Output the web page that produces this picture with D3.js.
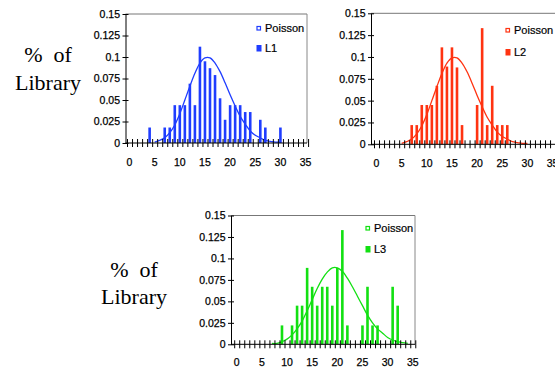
<!DOCTYPE html>
<html>
<head>
<meta charset="utf-8">
<script src="https://cdn.jsdelivr.net/npm/d3@7"></script>
<style>
  body { margin: 0; background: #fff; }
  svg { display: block; }
  .tick text { font-family: Arial, "Liberation Sans", sans-serif; font-size: 10.5px; fill: #000; stroke: #000; stroke-width: 0.25px; }
  .lib { font-family: "Liberation Serif", "Times New Roman", serif; font-size: 22px; white-space: pre; }
  .leg { font-family: Arial, "Liberation Sans", sans-serif; font-size: 11px; stroke: #000; stroke-width: 0.2px; }
</style>
</head>
<body>
<svg id="chart" width="555" height="372"></svg>
<script>
// axis labels
var xLabels = [0, 5, 10, 15, 20, 25, 30, 35];
var yTicks = [0, 0.025, 0.05, 0.075, 0.1, 0.125, 0.15];
var yLabels = ["0", "0.025", "0.05", "0.075", "0.1", "0.125", "0.15"];

// library L1 (bars)
var l1X = [4, 7, 8, 9, 10, 11, 12, 13, 14, 15, 16, 17, 18, 19, 20, 21, 22, 23, 24, 26, 27, 30];
var l1Y = [0.018, 0.018, 0.018, 0.044, 0.044, 0.044, 0.069, 0.044, 0.112, 0.095, 0.087, 0.079,
           0.052, 0.027, 0.044, 0.044, 0.044, 0.036, 0.036, 0.027, 0.018, 0.018];

// library L2
var l2X = [7, 8, 9, 10, 11, 12, 13, 14, 15, 16, 17, 20, 21, 22, 23, 24, 25, 26];
var l2Y = [0.022, 0.022, 0.045, 0.045, 0.045, 0.067, 0.111, 0.089, 0.111, 0.088, 0.022,
           0.045, 0.133, 0.022, 0.067, 0.022, 0.022, 0.022];

// library L3
var l3X = [9, 11, 12, 13, 14, 15, 16, 17, 18, 19, 20, 21, 22, 25, 26, 27, 28, 31, 32];
var l3Y = [0.022, 0.022, 0.045, 0.045, 0.089, 0.067, 0.045, 0.067, 0.067, 0.045, 0.089,
           0.133, 0.022, 0.022, 0.067, 0.022, 0.022, 0.067, 0.045];

// poisson curves (top panels share the same one)
var poisAX = [5, 6, 7, 8, 9, 10, 11, 12, 13, 14, 15, 16, 17, 18, 19, 20, 21, 22, 23, 24, 25, 26, 27, 28, 29, 30];
var poisAY = [0.001, 0.003, 0.006, 0.012, 0.021, 0.034, 0.050, 0.066, 0.081, 0.093, 0.099, 0.099, 0.093,
              0.083, 0.070, 0.056, 0.043, 0.031, 0.022, 0.014, 0.009, 0.006, 0.003, 0.002, 0.001, 0.001];
var poisBX = [7, 8, 9, 10, 11, 12, 13, 14, 15, 16, 17, 18, 19, 20, 21, 22, 23, 24, 25, 26, 27, 28, 29, 30, 31, 32, 33, 34];
var poisBY = [0.001, 0.001, 0.003, 0.006, 0.011, 0.018, 0.027, 0.039, 0.052, 0.065, 0.076, 0.084, 0.089,
              0.089, 0.085, 0.077, 0.067, 0.056, 0.045, 0.034, 0.025, 0.018, 0.013, 0.008, 0.005, 0.003, 0.002, 0.001];

var svg = d3.select('#chart');

function panel(cfg) {
    var g = svg.append('g');
    var bw = 5.03;
    var x = d3.scaleBand()
        .domain(d3.range(36))
        .range([cfg.bandStart, cfg.bandStart + 36 * bw]);
    var edge = d3.scaleLinear().domain([-0.5, 35.5]).range(x.range());
    var y = d3.scaleLinear().domain([0, 0.15]).range([cfg.y0, cfg.yTop]);
    var cx = function(k) { return x(k) + x.bandwidth() / 2; };

    // frame (top + right)
    g.append('line')
        .attr('x1', cfg.axisX).attr('x2', cfg.right)
        .attr('y1', y(0.15)).attr('y2', y(0.15))
        .attr('stroke', '#777');
    if (cfg.right < 555) {
        g.append('line')
            .attr('x1', cfg.right).attr('x2', cfg.right)
            .attr('y1', y(0.15)).attr('y2', y(0))
            .attr('stroke', '#888');
    }

    g.selectAll('rect.bar')
        .data(d3.zip(cfg.bx, cfg.by))
        .join('rect')
        .attr('class', 'bar')
        .attr('x', d => cx(d[0]) - 1.3)
        .attr('width', 2.6)
        .attr('y', d => y(d[1]))
        .attr('height', d => y(0) - y(d[1]))
        .attr('fill', cfg.color);

    var line = d3.line()
        .x(d => cx(d[0]))
        .y(d => y(d[1]))
        .curve(d3.curveCatmullRom.alpha(0.5));
    g.append('path')
        .datum(d3.zip(cfg.px, cfg.py))
        .attr('d', line)
        .attr('fill', 'none')
        .attr('stroke', cfg.color)
        .attr('stroke-width', 1.3);

    // y axis with crossing ticks
    var ya = g.append('g')
        .attr('transform', 'translate(' + cfg.axisX + ',0)')
        .call(d3.axisLeft(y).tickValues(yTicks).tickFormat((d, i) => yLabels[i])
            .tickSize(3).tickSizeOuter(0).tickPadding(2.5));
    ya.selectAll('.tick line').attr('x1', 3).attr('x2', -3);
    ya.select('.domain').attr('stroke', '#000');

    // x axis: ticks between categories, crossing the line
    var xe = g.append('g')
        .attr('transform', 'translate(0,' + cfg.y0 + ')')
        .call(d3.axisBottom(edge).tickValues(d3.range(-0.5, 36, 1)).tickFormat('').tickSize(4));
    xe.select('.domain').remove();
    xe.selectAll('.tick line').attr('y1', -4).attr('y2', 4);

    var xl = g.append('g')
        .attr('transform', 'translate(0,' + cfg.y0 + ')')
        .call(d3.axisBottom(x).tickValues(xLabels).tickSize(0).tickPadding(cfg.labPad));
    xl.select('.domain').remove();

    g.append('line')
        .attr('x1', cfg.axisX).attr('x2', cfg.right)
        .attr('y1', cfg.y0).attr('y2', cfg.y0)
        .attr('stroke', '#000');

    // legend
    var lg = g.append('g');
    lg.append('rect')
        .attr('x', cfg.legX).attr('y', cfg.legY1 - 5.5)
        .attr('width', 3.5).attr('height', 3.5)
        .attr('fill', '#fff').attr('stroke', cfg.color).attr('stroke-width', 1.2);
    lg.append('text').attr('class', 'leg')
        .attr('x', cfg.legX + 8).attr('y', cfg.legY1).text('Poisson');
    lg.append('rect')
        .attr('x', cfg.legX - 0.5).attr('y', cfg.legY2 - 7)
        .attr('width', 5).attr('height', 6.5)
        .attr('fill', cfg.color);
    lg.append('text').attr('class', 'leg')
        .attr('x', cfg.legX + 8).attr('y', cfg.legY2).text(cfg.name);
}

panel({ axisX: 125.5, bandStart: 127, y0: 143, yTop: 14, right: 307, labPad: 16,
        legX: 257, legY1: 32, legY2: 52, color: '#1f3dff', name: 'L1',
        bx: l1X, by: l1Y, px: poisAX, py: poisAY });
panel({ axisX: 371, bandStart: 374, y0: 144.3, yTop: 13.3, right: 555, labPad: 15,
        legX: 506, legY1: 34, legY2: 56, color: '#ff3311', name: 'L2',
        bx: l2X, by: l2Y, px: poisAX, py: poisAY });
panel({ axisX: 231, bandStart: 234.2, y0: 344.3, yTop: 215.5, right: 415, labPad: 14,
        legX: 366, legY1: 232, legY2: 253, color: '#12e012', name: 'L3',
        bx: l3X, by: l3Y, px: poisBX, py: poisBY });

// side titles
function sideLabel(cx, y1, y2) {
    svg.append('text').attr('class', 'lib').attr('text-anchor', 'middle')
        .attr('x', cx).attr('y', y1).text('%  of');
    svg.append('text').attr('class', 'lib').attr('text-anchor', 'middle')
        .attr('x', cx).attr('y', y2).text('Library');
}
sideLabel(48, 62, 90);
sideLabel(134, 277, 304);
</script>
</body>
</html>
